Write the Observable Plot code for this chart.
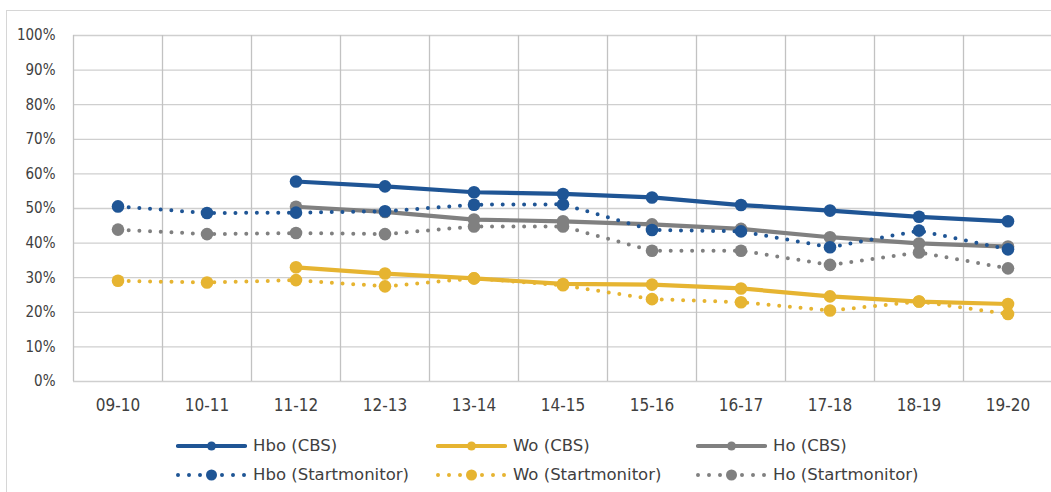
<!DOCTYPE html>
<html>
<head>
<meta charset="utf-8">
<script src="https://cdn.jsdelivr.net/npm/d3@7"></script>
<script src="https://cdn.jsdelivr.net/npm/@observablehq/plot@0.6"></script>
<style>
  html, body { margin: 0; padding: 0; background: #fff; overflow: hidden; width: 1051px; height: 492px; }
  body { position: relative; font-family: "DejaVu Sans Condensed", "DejaVu Sans", sans-serif; color: #404040; }
  #frame { position: absolute; left: 6px; top: 10px; width: 1200px; height: 600px; border-left: 1.5px solid #d6d6d6; border-top: 1.5px solid #d6d6d6; }
  #chart { position: absolute; left: 0; top: 0; width: 1060px; }
  #chart svg { max-width: none !important; }
  #legend { position: absolute; left: 176px; top: 431px; display: grid; grid-template-columns: 260px 260px 260px; grid-auto-rows: 29px; }
  .item { display: flex; align-items: center; font-family: "DejaVu Sans", sans-serif; font-size: 16.5px; color: #404040; white-space: nowrap; }
  .item svg { margin-right: 6px; flex: none; }
</style>
</head>
<body>
<div id="frame"></div>
<div id="chart"></div>
<div id="legend"></div>
<script>
const categories = ["09-10","10-11","11-12","12-13","13-14","14-15","15-16","16-17","17-18","18-19","19-20"];
const hboCBS = [null,null,57.8,56.4,54.7,54.2,53.2,51.0,49.4,47.6,46.3];
const woCBS  = [null,null,33.0,31.2,29.8,28.2,28.0,26.9,24.6,23.1,22.4];
const hoCBS  = [null,null,50.5,49.0,46.8,46.3,45.4,44.1,41.7,39.9,39.0];
const hboSM  = [50.6,48.7,48.8,49.2,51.1,51.2,43.8,43.4,38.8,43.6,38.2];
const woSM   = [29.1,28.6,29.3,27.5,29.8,27.8,23.8,22.9,20.5,23.1,19.5];
const hoSM   = [43.9,42.6,42.9,42.6,44.8,44.8,37.8,37.8,33.7,37.3,32.7];
const yTicks = [0,10,20,30,40,50,60,70,80,90,100];

const BLUE = "#1f5595", YELLOW = "#e6b431", GRAY = "#808080";
const seriesDefs = [
  {name: "Hbo (CBS)", values: hboCBS, color: BLUE, dotted: false},
  {name: "Wo (CBS)", values: woCBS, color: YELLOW, dotted: false},
  {name: "Ho (CBS)", values: hoCBS, color: GRAY, dotted: false},
  {name: "Hbo (Startmonitor)", values: hboSM, color: BLUE, dotted: true},
  {name: "Wo (Startmonitor)", values: woSM, color: YELLOW, dotted: true},
  {name: "Ho (Startmonitor)", values: hoSM, color: GRAY, dotted: true}
];

const marks = [
  Plot.ruleY(yTicks, {stroke: "#cfcfcf", strokeWidth: 1.3}),
  Plot.ruleX(d3.range(-0.5, 11, 1), {stroke: "#c2c2c2", strokeWidth: 1.3}),
  Plot.axisY({ticks: yTicks, tickFormat: d => d + "%", tickSize: 0, tickPadding: 18, fontSize: 15, label: null}),
  Plot.axisX({ticks: d3.range(categories.length), tickFormat: i => categories[i], tickSize: 0, tickPadding: 17, fontSize: 17, label: null})
];

for (const s of seriesDefs) {
  const rows = s.values.map((v, i) => ({i, v}));
  const defined = rows.filter(d => d.v != null);
  marks.push(Plot.line(defined, {
    x: "i", y: "v", stroke: s.color,
    strokeWidth: s.dotted ? 4 : 4.2,
    strokeDasharray: s.dotted ? "0 10.7" : null,
    strokeLinecap: "round", strokeLinejoin: "round"
  }));
  marks.push(Plot.dot(defined, {x: "i", y: "v", r: 6.3, fill: s.color, stroke: "none"}));
}

const chart = Plot.plot({
  width: 1060, height: 421,
  marginLeft: 73, marginRight: 8, marginTop: 35, marginBottom: 40,
  style: {fontFamily: '"DejaVu Sans Condensed", "DejaVu Sans", sans-serif', color: "#404040", background: "transparent", fontSize: "15px", maxWidth: "none"},
  x: {type: "linear", domain: [-0.5, 10.5]},
  y: {domain: [0, 100]},
  marks
});
chart.style.maxWidth = "none";
document.getElementById("chart").appendChild(chart);

// Legend
const legend = document.getElementById("legend");
for (const s of seriesDefs) {
  const item = document.createElement("div");
  item.className = "item";
  const w = 71, h = 14;
  const svg = d3.create("svg").attr("width", w).attr("height", h);
  if (s.dotted) {
    svg.append("line").attr("x1", 2).attr("x2", w - 2).attr("y1", h/2).attr("y2", h/2)
      .attr("stroke", s.color).attr("stroke-width", 4).attr("stroke-linecap", "round").attr("stroke-dasharray", "0 11");
  } else {
    svg.append("line").attr("x1", 2).attr("x2", w - 2).attr("y1", h/2).attr("y2", h/2)
      .attr("stroke", s.color).attr("stroke-width", 4.2).attr("stroke-linecap", "round");
  }
  svg.append("circle").attr("cx", w/2).attr("cy", h/2).attr("r", s.dotted ? 5.5 : 4.5).attr("fill", s.color);
  item.appendChild(svg.node());
  const t = document.createElement("span");
  t.textContent = s.name;
  item.appendChild(t);
  legend.appendChild(item);
}
</script>
</body>
</html>
